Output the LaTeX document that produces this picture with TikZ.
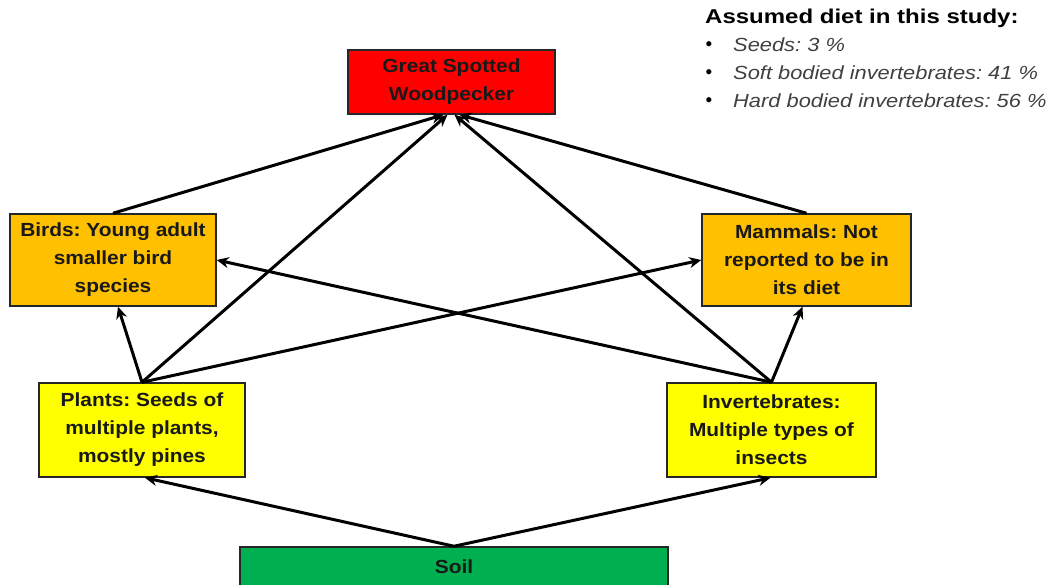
\documentclass[tikz,border=0pt]{standalone}
\usepackage{fontspec}
\setmainfont{Liberation Sans}
\newfontfamily\boxfont[FakeStretch=1.1]{Liberation Sans}
\newfontfamily\titlefont[FakeStretch=1.2]{Liberation Sans}
\newfontfamily\itemfont[FakeStretch=1.15]{Liberation Sans}
\usetikzlibrary{arrows.meta}
\definecolor{wpred}{HTML}{FF0000}
\definecolor{preyorange}{HTML}{FFC000}
\definecolor{baseyellow}{HTML}{FFFF00}
\definecolor{soilgreen}{HTML}{00B050}
\definecolor{notegray}{HTML}{404040}
\tikzset{
  box/.style={draw=black!85, line width=1.5pt, align=center, inner sep=2pt,
    font=\boxfont\bfseries\fontsize{19}{28}\selectfont, text=black!90},
  link/.style={line width=3pt, draw=black, -{Stealth[length=12pt,width=11pt]}},
  note/.style={anchor=west, inner sep=0pt, font=\itemfont\itshape\fontsize{19}{20}\selectfont, text=notegray},
  bullet/.style={anchor=center, inner sep=0pt, font=\fontsize{19}{20}\selectfont, text=black},
}
\begin{document}
\frenchspacing
\begin{tikzpicture}[x=1pt,y=-1pt]
\useasboundingbox (0,0) rectangle (1060,585);

% food web boxes
\node[box, fill=wpred, minimum width=207pt, minimum height=64pt] (wp) at (451.5,82) {Great Spotted\\Woodpecker};
\node[box, fill=preyorange, minimum width=206pt, minimum height=92pt] (birds) at (113,260) {Birds: Young adult\\smaller bird\\species};
\node[box, fill=preyorange, minimum width=209pt, minimum height=92pt] (mammals) at (806.5,260) {Mammals: Not\\reported to be in\\its diet};
\node[box, fill=baseyellow, minimum width=206pt, minimum height=94pt] (plants) at (142,430) {Plants: Seeds of\\multiple plants,\\mostly pines};
\node[box, fill=baseyellow, minimum width=209pt, minimum height=94pt] (inv) at (771.5,430) {Invertebrates:\\Multiple types of\\insects};
\node[box, fill=soilgreen, minimum width=428pt, minimum height=40pt] (soil) at (454,567) {Soil};

% feeding links
\draw[link] (birds.north) -- ([xshift=-8pt]wp.south);
\draw[link] (mammals.north) -- ([xshift=8pt]wp.south);
\draw[link] (plants.north) -- ([xshift=-4pt]wp.south);
\draw[link] (inv.north) -- ([xshift=3pt]wp.south);
\draw[link] (plants.north) -- ([xshift=5pt]birds.south);
\draw[link] (inv.north) -- ([xshift=-4pt]mammals.south);
\draw[link] (plants.north) -- (mammals.west);
\draw[link] (inv.north) -- (birds.east);
\draw[link] (soil.north) -- ([xshift=3pt]plants.south);
\draw[link] (soil.north) -- ([xshift=-1pt]inv.south);

% diet note
\node[note, text=black, font=\titlefont\bfseries\fontsize{20}{22}\selectfont] (title) at (705,18) {Assumed diet in this study:};
\node[bullet] (b1) at (709,46) {\textbullet};
\node[bullet] (b2) at (709,74) {\textbullet};
\node[bullet] (b3) at (709,102) {\textbullet};
\node[note] (d1) at (733,45) {Seeds: 3 \%};
\node[note] (d2) at (733,73) {Soft bodied invertebrates: 41 \%};
\node[note] (d3) at (733,101) {Hard bodied invertebrates: 56 \%};
\end{tikzpicture}
\end{document}
